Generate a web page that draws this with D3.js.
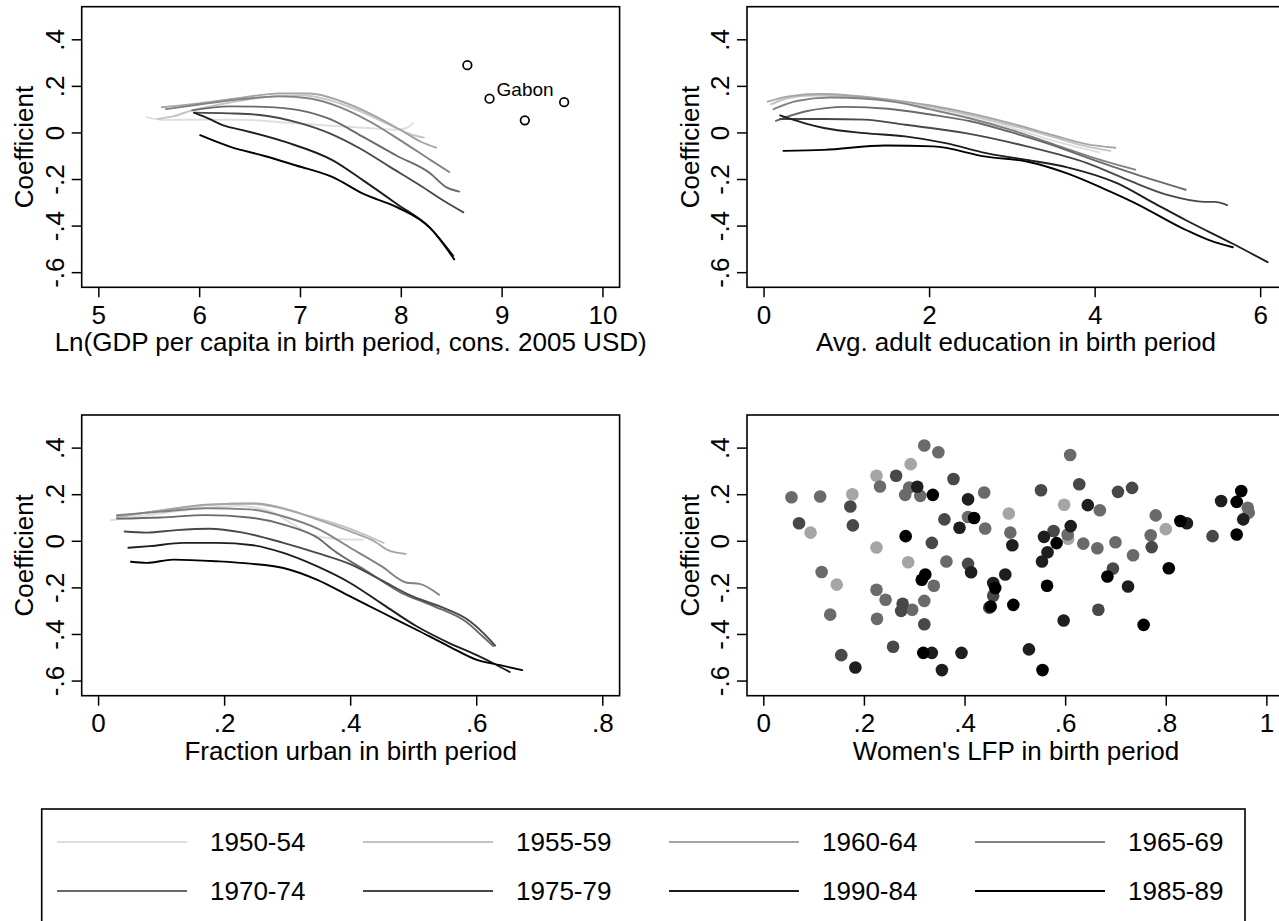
<!DOCTYPE html>
<html>
<head>
<meta charset="utf-8">
<script src="https://cdn.jsdelivr.net/npm/d3@7"></script>
<style>
body { margin: 0; background: #fff; }
svg { display: block; }
text { font-family: "Liberation Sans", Arial, Helvetica, sans-serif; fill: #000; }
</style>
</head>
<body>
<svg width="1279" height="921"></svg>
<script>
// cohorts, lightest to darkest
var cohorts = ["1950-54", "1955-59", "1960-64", "1965-69", "1970-74", "1975-79", "1990-84", "1985-89"];
var greys = ["#dedede", "#c4c4c4", "#a5a5a5", "#828282", "#6a6a6a", "#484848", "#1e1e1e", "#000000"];

var yTicks = [-0.6, -0.4, -0.2, 0, 0.2, 0.4];

// panel 1: ln GDP per capita
var gdpTicks = [5, 6, 7, 8, 9, 10];
var gdpCurves = [
  [[5.48,0.066],[5.65,0.054],[6.05,0.055],[6.46,0.054],[6.86,0.042],[7.27,0.03],[7.67,0.019],[7.95,0.012],[8.05,0.018],[8.12,0.04]],
  [[5.59,0.058],[5.75,0.07],[5.93,0.095],[6.2,0.12],[6.5,0.142],[6.8,0.158],[7.05,0.158],[7.3,0.138],[7.6,0.09],[7.9,0.03],[8.1,-0.008],[8.23,-0.022]],
  [[5.63,0.108],[6.0,0.125],[6.4,0.148],[6.8,0.168],[7.1,0.167],[7.4,0.135],[7.7,0.08],[8.0,0.01],[8.2,-0.04],[8.35,-0.065]],
  [[5.67,0.1],[6.0,0.12],[6.4,0.142],[6.8,0.155],[7.1,0.146],[7.4,0.108],[7.7,0.045],[8.0,-0.035],[8.3,-0.12],[8.48,-0.17]],
  [[5.93,0.095],[6.3,0.112],[6.65,0.11],[7.0,0.095],[7.3,0.057],[7.63,-0.02],[7.96,-0.1],[8.29,-0.175],[8.45,-0.235],[8.58,-0.254]],
  [[5.95,0.085],[6.3,0.082],[6.6,0.075],[7.0,0.04],[7.3,-0.005],[7.6,-0.07],[7.9,-0.15],[8.2,-0.23],[8.45,-0.3],[8.62,-0.343]],
  [[5.95,0.085],[6.1,0.058],[6.24,0.03],[6.45,0.008],[6.87,-0.043],[7.33,-0.121],[7.63,-0.207],[7.96,-0.307],[8.29,-0.41],[8.52,-0.53]],
  [[6.01,-0.012],[6.31,-0.062],[6.64,-0.1],[6.97,-0.143],[7.33,-0.193],[7.63,-0.264],[7.96,-0.321],[8.29,-0.41],[8.53,-0.545]]
];
var gabonX = [8.66, 8.88, 9.23, 9.62];
var gabonY = [0.289, 0.145, 0.052, 0.13];

// panel 2: adult education
var eduTicks = [0, 2, 4, 6];
var eduCurves = [
  [[0.08,0.12],[0.3,0.15],[0.6,0.165],[1.0,0.16],[1.5,0.14],[2.0,0.11],[2.5,0.07],[3.0,0.02],[3.5,-0.035],[4.06,-0.086]],
  [[0.1,0.122],[0.3,0.148],[0.6,0.158],[1.0,0.155],[1.5,0.138],[2.0,0.11],[2.5,0.075],[3.0,0.03],[3.5,-0.02],[3.9,-0.06],[4.19,-0.079]],
  [[0.05,0.132],[0.3,0.155],[0.7,0.165],[1.0,0.16],[1.5,0.142],[2.0,0.117],[2.5,0.082],[3.0,0.038],[3.5,-0.012],[3.9,-0.05],[4.25,-0.066]],
  [[0.12,0.1],[0.4,0.135],[0.8,0.15],[1.2,0.146],[1.6,0.13],[2.0,0.1],[2.5,0.06],[3.0,0.01],[3.5,-0.05],[4.0,-0.11],[4.49,-0.16]],
  [[0.15,0.05],[0.5,0.09],[1.0,0.11],[1.5,0.102],[2.0,0.078],[2.5,0.048],[3.0,0.0],[3.5,-0.055],[4.0,-0.12],[4.5,-0.18],[5.1,-0.246]],
  [[0.2,0.058],[0.73,0.058],[1.22,0.055],[1.71,0.033],[2.44,-0.003],[3.18,-0.06],[3.91,-0.132],[4.4,-0.204],[4.89,-0.269],[5.33,-0.298],[5.45,-0.298],[5.6,-0.312]],
  [[0.2,0.073],[0.49,0.04],[0.73,0.019],[1.22,-0.003],[1.71,-0.017],[2.2,-0.046],[2.69,-0.089],[3.18,-0.118],[3.67,-0.15],[4.27,-0.218],[4.7,-0.3],[5.11,-0.378],[5.67,-0.478],[6.09,-0.557]],
  [[0.24,-0.079],[0.73,-0.075],[1.47,-0.056],[2.05,-0.06],[2.69,-0.104],[3.18,-0.125],[3.66,-0.175],[4.1,-0.24],[4.47,-0.3],[5.11,-0.42],[5.4,-0.465],[5.67,-0.493]]
];

// panel 3: fraction urban
var urbTicks = [0, 0.2, 0.4, 0.6, 0.8];
var urbCurves = [
  [[0.02,0.088],[0.08,0.11],[0.15,0.135],[0.22,0.15],[0.27,0.13],[0.31,0.07],[0.34,0.025],[0.38,0.008],[0.42,0.005]],
  [[0.03,0.1],[0.1,0.13],[0.18,0.155],[0.24,0.16],[0.28,0.145],[0.33,0.11],[0.38,0.07],[0.42,0.03],[0.453,-0.009]],
  [[0.03,0.105],[0.1,0.13],[0.17,0.155],[0.25,0.16],[0.3,0.135],[0.35,0.09],[0.4,0.04],[0.44,-0.005],[0.46,-0.04],[0.488,-0.056]],
  [[0.03,0.11],[0.1,0.125],[0.17,0.14],[0.24,0.135],[0.3,0.1],[0.35,0.05],[0.4,-0.03],[0.45,-0.11],[0.49,-0.18],[0.51,-0.185],[0.541,-0.232]],
  [[0.03,0.095],[0.1,0.1],[0.17,0.11],[0.24,0.1],[0.3,0.065],[0.35,0.01],[0.373,-0.04],[0.426,-0.13],[0.479,-0.22],[0.532,-0.28],[0.585,-0.35],[0.61,-0.41],[0.627,-0.452]],
  [[0.042,0.04],[0.077,0.035],[0.124,0.046],[0.177,0.052],[0.23,0.035],[0.294,-0.009],[0.347,-0.052],[0.4,-0.1],[0.45,-0.17],[0.5,-0.24],[0.55,-0.29],[0.59,-0.345],[0.62,-0.42],[0.63,-0.45]],
  [[0.048,-0.03],[0.082,-0.023],[0.135,-0.009],[0.188,-0.009],[0.246,-0.019],[0.294,-0.052],[0.347,-0.109],[0.4,-0.181],[0.453,-0.275],[0.506,-0.368],[0.558,-0.44],[0.6,-0.49],[0.63,-0.53],[0.653,-0.563]],
  [[0.052,-0.09],[0.077,-0.095],[0.119,-0.081],[0.188,-0.088],[0.241,-0.098],[0.294,-0.117],[0.347,-0.167],[0.4,-0.239],[0.453,-0.311],[0.506,-0.383],[0.558,-0.455],[0.6,-0.51],[0.638,-0.534],[0.673,-0.555]]
];

// panel 4: women's LFP scatter (cohort index per point)
var lfpTicks = [0, 0.2, 0.4, 0.6, 0.8, 1];
var lfpX = [0.320,0.348,0.610,0.293,0.225,0.264,0.378,0.232,0.628,0.733,0.552,0.950,0.306,0.290,0.282,0.312,0.337,0.439,0.705,0.056,
  0.113,0.177,0.407,0.910,0.941,0.598,0.645,0.173,0.669,0.963,0.965,0.488,0.780,0.071,0.178,0.360,0.407,0.419,0.829,0.842,
  0.954,0.094,0.390,0.441,0.491,0.611,0.577,0.605,0.606,0.800,0.283,0.558,0.770,0.893,0.941,0.335,0.495,0.583,0.565,0.636,
  0.664,0.700,0.772,0.225,0.735,0.554,0.288,0.364,0.407,0.413,0.695,0.806,0.116,0.481,0.322,0.315,0.684,0.146,0.339,0.457,
  0.461,0.564,0.725,0.225,0.243,0.320,0.457,0.277,0.274,0.296,0.452,0.497,0.449,0.666,0.133,0.226,0.597,0.320,0.756,0.258,
  0.528,0.155,0.318,0.335,0.394,0.183,0.355,0.555];
var lfpY = [0.409,0.380,0.368,0.329,0.279,0.279,0.265,0.233,0.243,0.227,0.217,0.214,0.232,0.229,0.197,0.193,0.197,0.207,0.210,0.187,
  0.190,0.200,0.178,0.171,0.167,0.155,0.153,0.147,0.131,0.142,0.121,0.117,0.109,0.075,0.066,0.092,0.102,0.098,0.085,0.075,
  0.092,0.035,0.056,0.053,0.035,0.063,0.042,0.027,0.009,0.050,0.020,0.017,0.024,0.020,0.027,-0.009,-0.019,-0.010,-0.049,-0.012,
  -0.032,-0.006,-0.027,-0.029,-0.062,-0.089,-0.092,-0.089,-0.099,-0.135,-0.119,-0.118,-0.134,-0.145,-0.145,-0.167,-0.153,-0.188,-0.193,-0.181,
  -0.203,-0.193,-0.196,-0.210,-0.253,-0.258,-0.236,-0.270,-0.301,-0.296,-0.282,-0.275,-0.287,-0.296,-0.317,-0.335,-0.342,-0.358,-0.361,-0.455,
  -0.466,-0.491,-0.481,-0.481,-0.481,-0.544,-0.555,-0.555];
var lfpCohort = [4,4,4,2,2,5,5,4,5,5,5,7,6,4,4,4,7,4,5,4,
  4,2,6,6,7,2,6,5,4,4,4,2,4,5,5,5,4,7,7,6,
  6,2,6,4,4,6,5,4,2,2,7,6,4,5,7,5,6,7,6,4,
  4,4,5,2,4,6,2,4,5,6,5,7,4,6,7,7,7,2,4,6,
  7,7,6,4,4,4,5,5,5,4,7,7,5,5,4,4,6,5,7,5,
  6,5,7,6,6,6,6,7];

var svg = d3.select("svg");
var fontSize = 26;

var panels = [
  { left: 81.7, right: 619.6, top: 6.7, bottom: 287.3, xDomain: [4.835, 10.17], ticks: gdpTicks,
    title: "Ln(GDP per capita in birth period, cons. 2005 USD)", curves: gdpCurves },
  { left: 747, right: 1285, top: 6.7, bottom: 287.3, xDomain: [-0.2, 6.3], ticks: eduTicks,
    title: "Avg. adult education in birth period", curves: eduCurves },
  { left: 81.7, right: 619.6, top: 415, bottom: 695.7, xDomain: [-0.026, 0.8275], ticks: urbTicks,
    title: "Fraction urban in birth period", curves: urbCurves },
  { left: 747, right: 1285, top: 415, bottom: 695.7, xDomain: [-0.0324, 1.037], ticks: lfpTicks,
    title: "Women's LFP in birth period", curves: null }
];

function fmt(v) {
  return String(+v.toFixed(2)).replace(/^(-?)0\./, "$1.");
}

panels.forEach(function(p, i) {
  var x = d3.scaleLinear().domain(p.xDomain).range([p.left, p.right]);
  var y = d3.scaleLinear().domain([-0.665, 0.54]).range([p.bottom, p.top]);
  var g = svg.append("g");

  var line = d3.line()
    .x(function(d) { return x(d[0]); })
    .y(function(d) { return y(d[1]); })
    .curve(d3.curveMonotoneX);

  if (p.curves) {
    g.selectAll("path.curve")
      .data(p.curves)
      .enter().append("path")
      .attr("class", "curve")
      .attr("d", line)
      .attr("fill", "none")
      .attr("stroke", function(d, k) { return greys[k]; })
      .attr("stroke-width", 1.9)
      .attr("stroke-linejoin", "round")
      .attr("stroke-linecap", "round");
  } else {
    var idx = d3.range(lfpX.length).sort(function(a, b) { return lfpCohort[a] - lfpCohort[b]; });
    g.selectAll("circle.pt")
      .data(idx)
      .enter().append("circle")
      .attr("class", "pt")
      .attr("cx", function(k) { return x(lfpX[k]); })
      .attr("cy", function(k) { return y(lfpY[k]); })
      .attr("r", 6.3)
      .attr("fill", function(k) { return greys[lfpCohort[k]]; });
  }

  if (i == 0) {
    g.selectAll("circle.gabon")
      .data(gabonX)
      .enter().append("circle")
      .attr("class", "gabon")
      .attr("cx", function(d) { return x(d); })
      .attr("cy", function(d, k) { return y(gabonY[k]); })
      .attr("r", 4.3)
      .attr("fill", "none")
      .attr("stroke", "#000")
      .attr("stroke-width", 1.7);
    g.append("text")
      .attr("x", x(gabonX[1]) + 7)
      .attr("y", y(gabonY[1]) - 3)
      .attr("font-size", 19)
      .text("Gabon");
  }

  // frame
  g.append("rect")
    .attr("x", p.left).attr("y", p.top)
    .attr("width", p.right - p.left).attr("height", p.bottom - p.top)
    .attr("fill", "none").attr("stroke", "#000").attr("stroke-width", 1.6);

  var xAxis = g.append("g")
    .attr("transform", "translate(0," + p.bottom + ")")
    .call(d3.axisBottom(x).tickValues(p.ticks).tickSize(10).tickPadding(8).tickFormat(fmt));
  xAxis.select(".domain").remove();
  xAxis.selectAll("line").attr("stroke-width", 1.5);
  xAxis.selectAll("text").attr("font-size", fontSize).attr("font-family", null);

  var yAxis = g.append("g")
    .attr("transform", "translate(" + p.left + ",0)")
    .call(d3.axisLeft(y).tickValues(yTicks).tickSize(10).tickFormat(fmt));
  yAxis.select(".domain").remove();
  yAxis.selectAll("line").attr("stroke-width", 1.5);
  yAxis.selectAll("text")
    .attr("font-size", fontSize).attr("font-family", null)
    .attr("transform", "rotate(-90)")
    .attr("x", 0).attr("y", -18).attr("dy", 0)
    .attr("text-anchor", "middle");

  g.append("text")
    .attr("x", (p.left + p.right) / 2)
    .attr("y", p.bottom + 64)
    .attr("text-anchor", "middle")
    .attr("font-size", fontSize)
    .text(p.title);

  g.append("text")
    .attr("transform", "translate(" + (p.left - 48.5) + "," + ((p.top + p.bottom) / 2) + ") rotate(-90)")
    .attr("text-anchor", "middle")
    .attr("font-size", fontSize)
    .text("Coefficient");
});

// legend
var legend = svg.append("g");
legend.append("rect")
  .attr("x", 41.7).attr("y", 809)
  .attr("width", 1203.3).attr("height", 140)
  .attr("fill", "none").attr("stroke", "#000").attr("stroke-width", 1.6);

var item = legend.selectAll("g.item")
  .data(cohorts)
  .enter().append("g")
  .attr("class", "item")
  .attr("transform", function(d, k) {
    return "translate(" + (57 + (k % 4) * 306) + "," + (842 + Math.floor(k / 4) * 49) + ")";
  });
item.append("line")
  .attr("x1", 0).attr("x2", 130)
  .attr("stroke", function(d, k) { return greys[k]; })
  .attr("stroke-width", 2.2);
item.append("text")
  .attr("x", 153).attr("y", 9)
  .attr("font-size", fontSize)
  .text(function(d) { return d; });
</script>
</body>
</html>
